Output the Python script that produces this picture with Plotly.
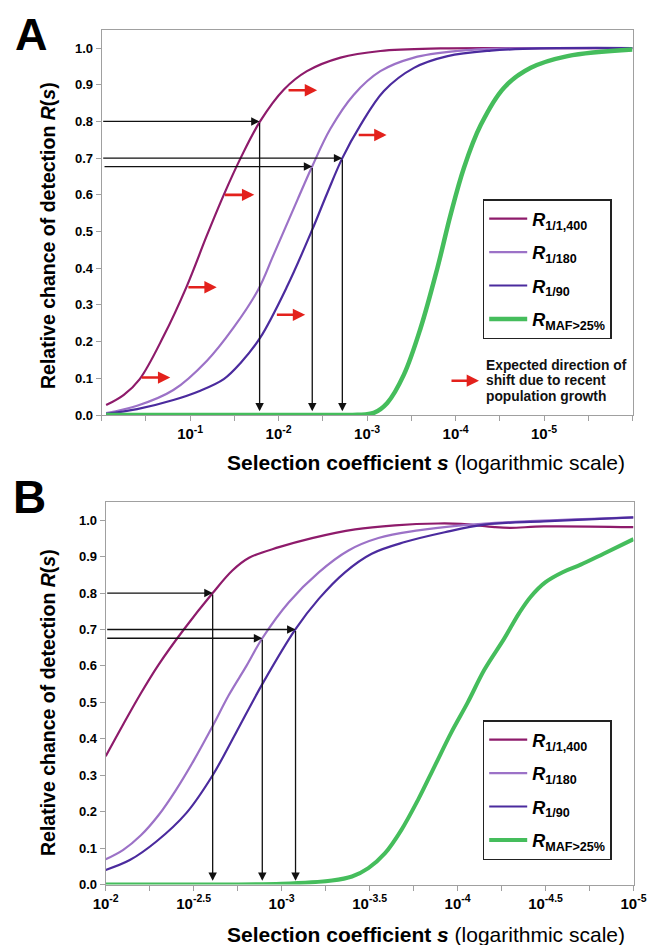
import plotly.graph_objects as go

# The page body has an 8 px default margin; the figure is sized so it ends at the window edge.
PAGE_W, PAGE_H = 663, 945
OFF = 8
W, H = PAGE_W - OFF, PAGE_H - OFF

# ---------------- Panel A data (x = log10 of selection coefficient s) ----------------
a_1400_x = [-0.05, -0.25, -0.43, -0.70, -0.96, -1.19, -1.38, -1.57, -1.79, -2.06, -2.32, -2.70, -3.15, -3.83, -4.6, -5.3, -6.0]
a_1400_y = [0.027, 0.055, 0.098, 0.215, 0.35, 0.49, 0.60, 0.70, 0.80, 0.887, 0.937, 0.974, 0.992, 0.999, 1.0, 1.0, 1.0]

a_180_x = [-0.05, -0.4, -0.81, -1.19, -1.49, -1.77, -1.94, -2.21, -2.38, -2.585, -2.85, -3.15, -3.53, -4.02, -4.59, -5.3, -6.0]
a_180_y = [0.005, 0.025, 0.068, 0.148, 0.238, 0.342, 0.435, 0.585, 0.678, 0.78, 0.873, 0.937, 0.974, 0.992, 0.999, 1.0, 1.0]

a_90_x = [-0.05, -0.4, -0.81, -1.1, -1.38, -1.57, -1.79, -2.095, -2.38, -2.55, -2.72, -2.925, -3.19, -3.53, -3.91, -4.40, -4.96, -6.0]
a_90_y = [0.003, 0.016, 0.041, 0.065, 0.098, 0.142, 0.21, 0.35, 0.505, 0.605, 0.70, 0.79, 0.883, 0.946, 0.978, 0.993, 0.999, 1.0]

a_maf_x = [-0.05, -1.0, -2.0, -2.6, -2.89, -3.076, -3.228, -3.416, -3.605, -3.794, -3.944, -4.095, -4.284, -4.548, -4.85, -5.266, -6.0]
a_maf_y = [0.0, 0.0, 0.0, 0.0, 0.0005, 0.006, 0.033, 0.11, 0.237, 0.40, 0.546, 0.674, 0.79, 0.892, 0.946, 0.978, 0.996]

# ---------------- Panel B data ----------------
b_1400_x = [-2.0, -2.1, -2.2, -2.3, -2.444, -2.608, -2.72, -2.815, -2.985, -3.173, -3.418, -3.644, -3.889, -4.02, -4.21, -4.30, -4.49, -5.0]
b_1400_y = [0.352, 0.44, 0.525, 0.603, 0.70, 0.80, 0.862, 0.897, 0.926, 0.951, 0.975, 0.986, 0.991, 0.99, 0.981, 0.979, 0.983, 0.981]

b_180_x = [-2.0, -2.1, -2.2, -2.3, -2.4, -2.5, -2.608, -2.7, -2.8, -2.89, -3.041, -3.211, -3.38, -3.55, -3.776, -4.02, -4.30, -5.0]
b_180_y = [0.069, 0.095, 0.135, 0.19, 0.26, 0.34, 0.435, 0.52, 0.60, 0.676, 0.775, 0.857, 0.917, 0.951, 0.972, 0.986, 0.995, 1.008]

b_90_x = [-2.0, -2.137, -2.288, -2.458, -2.608, -2.74, -2.89, -3.079, -3.211, -3.36, -3.512, -3.70, -3.927, -4.153, -4.49, -5.0]
b_90_y = [0.04, 0.067, 0.118, 0.196, 0.30, 0.416, 0.55, 0.701, 0.784, 0.857, 0.908, 0.94, 0.967, 0.988, 0.997, 1.008]

b_maf_x = [-2.0, -2.5, -3.0, -3.286, -3.40, -3.493, -3.588, -3.681, -3.776, -3.87, -3.964, -4.058, -4.153, -4.265, -4.35, -4.416, -4.50, -4.60, -4.70, -4.83, -5.0]
b_maf_y = [0.0, 0.0, 0.002, 0.011, 0.022, 0.045, 0.086, 0.15, 0.233, 0.325, 0.417, 0.50, 0.59, 0.675, 0.745, 0.79, 0.83, 0.858, 0.878, 0.908, 0.948]

# Black guide arrows: (R value, log10 s at curve, log10 s where the horizontal arrow starts)
a_guides = [(0.80, -1.785, 0.0), (0.70, -2.72, 0.0), (0.677, -2.38, -0.015)]
b_guides = [(0.80, -2.608, -2.0), (0.70, -3.079, -2.0), (0.676, -2.89, -2.0)]

# Red arrows (panel A): (R, tail log10 s, head log10 s)
a_red = [(0.102, -0.435, -0.775), (0.348, -0.963, -1.30), (0.600, -1.377, -1.725),
         (0.885, -2.095, -2.435), (0.273, -1.963, -2.30), (0.763, -2.888, -3.22),
         (0.0935, -3.937, -4.265)]

series_names = ["1/1,400", "1/180", "1/90", "MAF>25%"]
colors = ["#8E1B6B", "#9C72C7", "#4B2B9E", "#45BD5C"]
widths = [2.2, 2.2, 2.2, 4.5]

a_tick_exp = [0, -0.5, -1, -1.5, -2, -2.5, -3, -3.5, -4, -4.5, -5, -5.5, -6]
a_tick_txt = ["", "", "10<sup>-1</sup>", "", "10<sup>-2</sup>", "", "10<sup>-3</sup>", "",
              "10<sup>-4</sup>", "", "10<sup>-5</sup>", "", ""]
b_tick_exp = [-2, -2.25, -2.5, -2.75, -3, -3.25, -3.5, -3.75, -4, -4.25, -4.5, -4.75, -5]
b_tick_txt = ["10<sup>-2</sup>", "", "10<sup>-2.5</sup>", "", "10<sup>-3</sup>", "", "10<sup>-3.5</sup>", "",
              "10<sup>-4</sup>", "", "10<sup>-4.5</sup>", "", "10<sup>-5</sup>"]
y_ticks = [0.0, 0.1, 0.2, 0.3, 0.4, 0.5, 0.6, 0.7, 0.8, 0.9, 1.0]

FONT = "Arial, 'Liberation Sans', Helvetica, sans-serif"

def px_x(p):
    """page pixel x -> paper fraction"""
    return (p - OFF) / W

def px_y(p):
    """page pixel y -> paper fraction"""
    return 1 - (p - OFF) / H

fig = go.Figure()

panelA = [(a_1400_x, a_1400_y), (a_180_x, a_180_y), (a_90_x, a_90_y), (a_maf_x, a_maf_y)]
panelB = [(b_1400_x, b_1400_y), (b_180_x, b_180_y), (b_90_x, b_90_y), (b_maf_x, b_maf_y)]

def legend_label(name):
    return "<b><i>R</i></b><sub><b>%s</b></sub>" % name

for i, (xs, ys) in enumerate(panelA):
    fig.add_trace(go.Scatter(
        x=[10 ** v for v in xs], y=ys, mode="lines",
        line=dict(color=colors[i], width=widths[i], shape="spline", smoothing=1.0),
        name=legend_label(series_names[i]), legend="legend", legendgroup="a%d" % i,
        xaxis="x", yaxis="y", hoverinfo="skip"))

for i, (xs, ys) in enumerate(panelB):
    fig.add_trace(go.Scatter(
        x=[10 ** v for v in xs], y=ys, mode="lines",
        line=dict(color=colors[i], width=widths[i] - (0.5 if i == 3 else 0), shape="spline", smoothing=1.0),
        name=legend_label(series_names[i]), legend="legend2", legendgroup="b%d" % i,
        xaxis="x2", yaxis="y2", hoverinfo="skip"))

annotations = []

def guide_arrows(guides, xref, yref):
    for r, xc, x0 in guides:
        annotations.append(dict(x=xc, y=r, ax=x0, ay=r, xref=xref, yref=yref, axref=xref, ayref=yref,
                                text="", showarrow=True, arrowhead=2, arrowsize=1.3, arrowwidth=1.3,
                                arrowcolor="#111111", standoff=0, startstandoff=0))
        annotations.append(dict(x=xc, y=0.01, ax=xc, ay=r, xref=xref, yref=yref, axref=xref, ayref=yref,
                                text="", showarrow=True, arrowhead=2, arrowsize=1.3, arrowwidth=1.3,
                                arrowcolor="#111111", standoff=0, startstandoff=0))

guide_arrows(a_guides, "x", "y")
guide_arrows(b_guides, "x2", "y2")

for r, xt, xh in a_red:
    annotations.append(dict(x=xh, y=r, ax=xt, ay=r, xref="x", yref="y", axref="x", ayref="y",
                            text="", showarrow=True, arrowhead=2, arrowsize=0.95, arrowwidth=2.6,
                            arrowcolor="#E3211C", standoff=0, startstandoff=0))

# Legend note text (panel A)
for j, line in enumerate(["Expected direction of", "shift due to recent", "population growth"]):
    annotations.append(dict(x=px_x(484), y=px_y(365.5 + 15.5 * j), xref="paper", yref="paper",
                            xanchor="left", yanchor="middle", showarrow=False,
                            text="<b>%s</b>" % line, font=dict(family=FONT, size=13.8, color="#111")))

# Panel letters
annotations.append(dict(x=px_x(31), y=1.0, xref="paper", yref="paper", showarrow=False,
                        text="<b>A</b>", font=dict(family=FONT, size=45, color="#000"),
                        xanchor="center", yanchor="top", borderpad=0))
annotations.append(dict(x=px_x(29), y=px_y(497), xref="paper", yref="paper", showarrow=False,
                        text="<b>B</b>", font=dict(family=FONT, size=46, color="#000"),
                        xanchor="center", yanchor="middle"))

# Axis titles
ytitle = "<b>Relative chance of detection <i>R</i>(<i>s</i>)</b>"
xtitle = "<b>Selection coefficient <i>s</i></b> (logarithmic scale)"
for yc in (236, 703):
    annotations.append(dict(x=px_x(48), y=px_y(yc), xref="paper", yref="paper", showarrow=False,
                            text=ytitle, textangle=-90, font=dict(family=FONT, size=19.5, color="#000"),
                            xanchor="center", yanchor="middle"))
for yc in (462, 934):
    annotations.append(dict(x=px_x(426), y=px_y(yc), xref="paper", yref="paper", showarrow=False,
                            text=xtitle, font=dict(family=FONT, size=21, color="#000"),
                            xanchor="center", yanchor="middle"))

axis_common = dict(showline=True, mirror=True, linecolor="#A0A0A0", linewidth=1.2,
                   ticks="outside", ticklen=5, tickcolor="#A0A0A0", tickwidth=1, automargin=False,
                   showgrid=False, zeroline=False, tickfont=dict(family=FONT, size=15, color="#000"))
yfont = dict(family=FONT, size=13, color="#000")

fig.update_layout(
    width=W, height=H, margin=dict(l=0, r=0, t=0, b=0, autoexpand=False),
    paper_bgcolor="white", plot_bgcolor="white",
    font=dict(family=FONT, color="#000"),
    xaxis=dict(type="log", range=[0, -6], domain=[px_x(101.7), px_x(632.5)], anchor="y",
               tickmode="array", tickvals=[10 ** v for v in a_tick_exp],
               ticktext=["<b>%s</b>" % t if t else "" for t in a_tick_txt], **axis_common),
    yaxis=dict(range=[0, 1.05], domain=[px_y(415), px_y(29.7)], anchor="x",
               tickmode="array", tickvals=y_ticks, ticktext=["<b>%.1f</b>" % v for v in y_ticks],
               **{**axis_common, "tickfont": yfont}),
    xaxis2=dict(type="log", range=[-2, -5], domain=[px_x(105.7), px_x(633.5)], anchor="y2",
                tickmode="array", tickvals=[10 ** v for v in b_tick_exp],
                ticktext=["<b>%s</b>" % t if t else "" for t in b_tick_txt], **axis_common),
    yaxis2=dict(range=[0, 1.05], domain=[px_y(884.5), px_y(502)], anchor="x2",
                tickmode="array", tickvals=y_ticks, ticktext=["<b>%.1f</b>" % v for v in y_ticks],
                **{**axis_common, "tickfont": yfont}),
    legend=dict(x=px_x(482.7), y=px_y(199), xanchor="left", yanchor="top",
                bordercolor="#222222", borderwidth=1.5, bgcolor="white",
                font=dict(family=FONT, size=18, color="#000"), itemwidth=38, tracegroupgap=7),
    legend2=dict(x=px_x(482.7), y=px_y(720), xanchor="left", yanchor="top",
                 bordercolor="#222222", borderwidth=1.5, bgcolor="white",
                 font=dict(family=FONT, size=18, color="#000"), itemwidth=38, tracegroupgap=7),
    annotations=annotations,
    showlegend=True,
)

fig.write_html("out.html")
